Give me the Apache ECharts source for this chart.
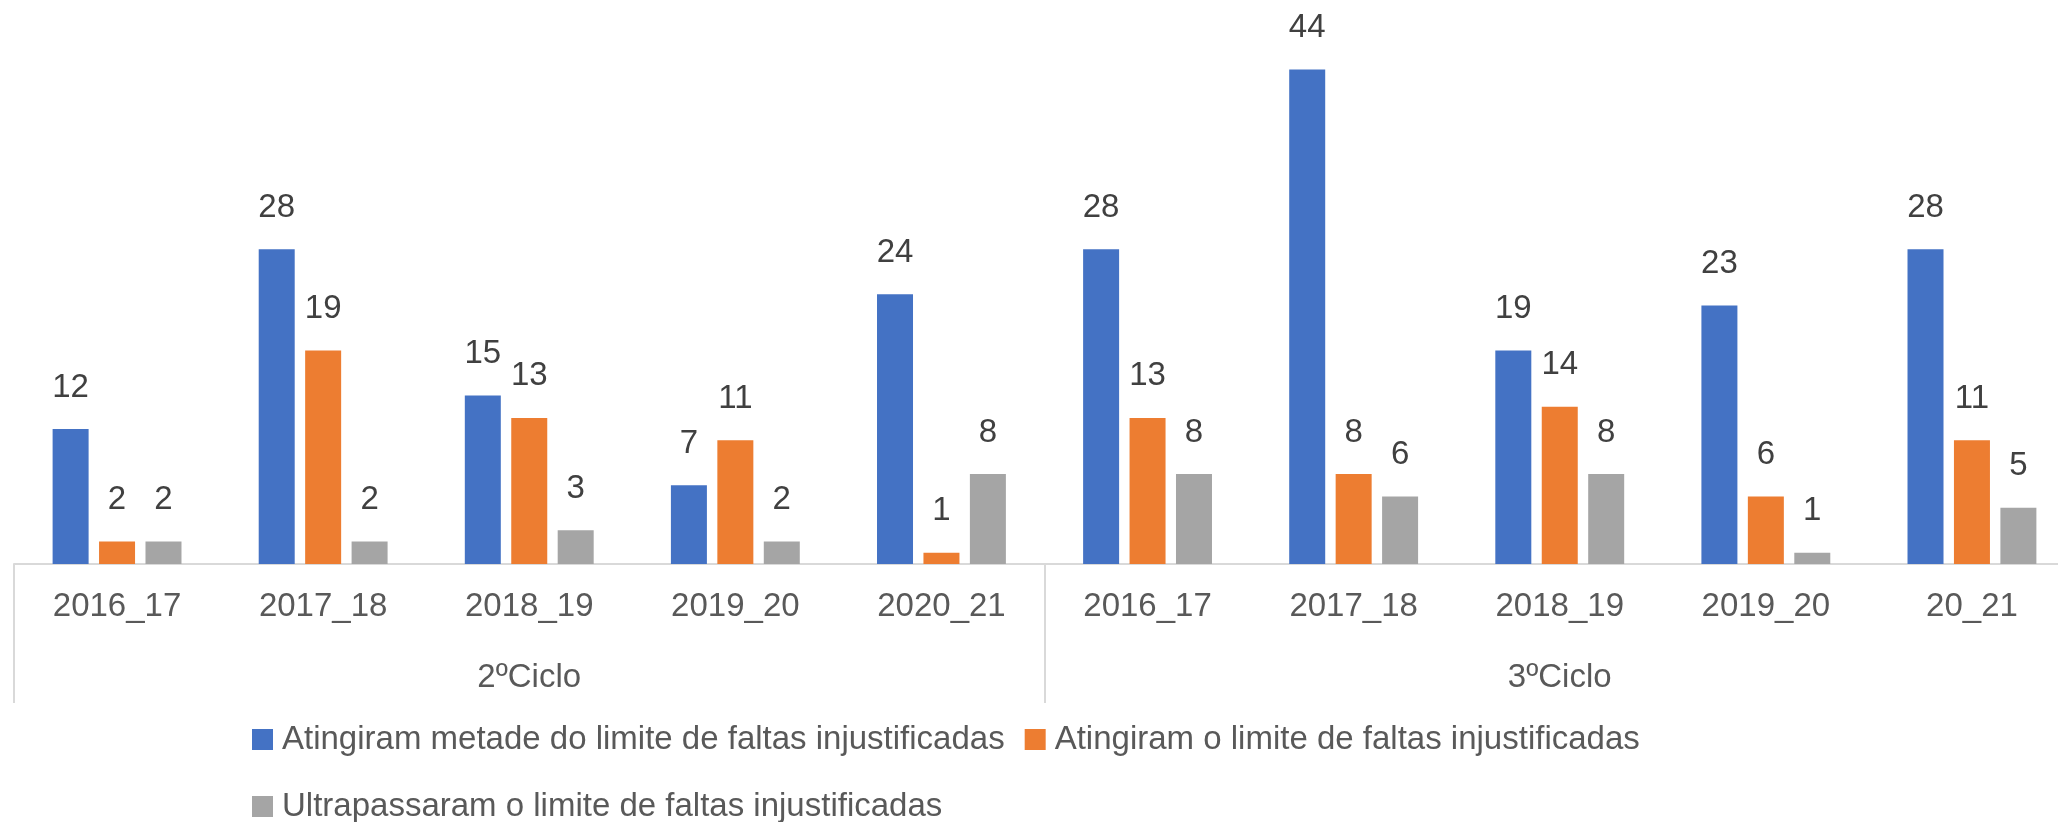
<!DOCTYPE html>
<html>
<head>
<meta charset="utf-8">
<script src="https://cdn.jsdelivr.net/npm/echarts@6/dist/echarts.min.js"></script>
<style>
  html, body { margin: 0; padding: 0; background: #fff; }
  #chart { width: 2058px; height: 822px; }
</style>
</head>
<body>
<div id="chart"></div>
<script>
const years = ['2016_17', '2017_18', '2018_19', '2019_20', '2020_21',
  '2016_17', '2017_18', '2018_19', '2019_20', '20_21']
const cycles = ['2ºCiclo', '3ºCiclo']

const metade = [12, 28, 15, 7, 24, 28, 44, 19, 23, 28]
const limite = [2, 19, 13, 11, 1, 13, 8, 14, 6, 11]
const ultrapassaram = [2, 2, 3, 2, 8, 8, 6, 8, 1, 5]

const names = [
  'Atingiram metade do limite de faltas injustificadas',
  'Atingiram o limite de faltas injustificadas',
  'Ultrapassaram o limite de faltas injustificadas',
]
const colors = ['#4472C4', '#ED7D31', '#A5A5A5']

const font = 'Liberation Sans'
const chart = echarts.init(document.getElementById('chart'))

function barSeries(i, data) {
  return {
    name: names[i],
    type: 'bar',
    xAxisIndex: 0,
    barWidth: 36,
    barGap: '29%',
    itemStyle: { color: colors[i] },
    label: {
      show: true,
      position: 'top',
      distance: 25,
      fontSize: 33,
      fontFamily: font,
      color: '#404040',
    },
    data: data,
  }
}

const legendText = { fontSize: 33, color: '#595959', fontFamily: font, padding: [0, 0, 0, 4] }

chart.setOption({
  animation: false,
  textStyle: { fontFamily: font },
  // the last category runs past the right edge of the picture
  grid: { left: 14, right: -17, top: 2, bottom: 258, outerBoundsMode: 'none' },
  legend: [
    {
      data: [names[0], names[1]],
      left: 252,
      top: 723,
      padding: 0,
      itemWidth: 21,
      itemHeight: 21,
      itemGap: 20,
      icon: 'rect',
      textStyle: legendText,
    },
    {
      data: [names[2]],
      left: 252,
      top: 790,
      padding: 0,
      itemWidth: 21,
      itemHeight: 21,
      icon: 'rect',
      textStyle: legendText,
    },
  ],
  xAxis: [
    {
      type: 'category',
      position: 'bottom',
      data: years,
      axisLine: { lineStyle: { color: '#d9d9d9', width: 2 } },
      axisTick: { show: false },
      axisLabel: { margin: 26, fontSize: 33, color: '#595959', interval: 0 },
    },
    {
      type: 'category',
      position: 'bottom',
      data: cycles,
      axisLine: { show: false },
      axisTick: { show: true, length: 139, lineStyle: { color: '#d9d9d9', width: 2 } },
      axisLabel: { margin: 97, fontSize: 33, color: '#595959', interval: 0 },
    },
  ],
  yAxis: {
    type: 'value',
    min: 0,
    max: 50,
    show: false,
    splitLine: { show: false },
  },
  series: [
    barSeries(0, metade),
    barSeries(1, limite),
    barSeries(2, ultrapassaram),
  ],
})
</script>
</body>
</html>
